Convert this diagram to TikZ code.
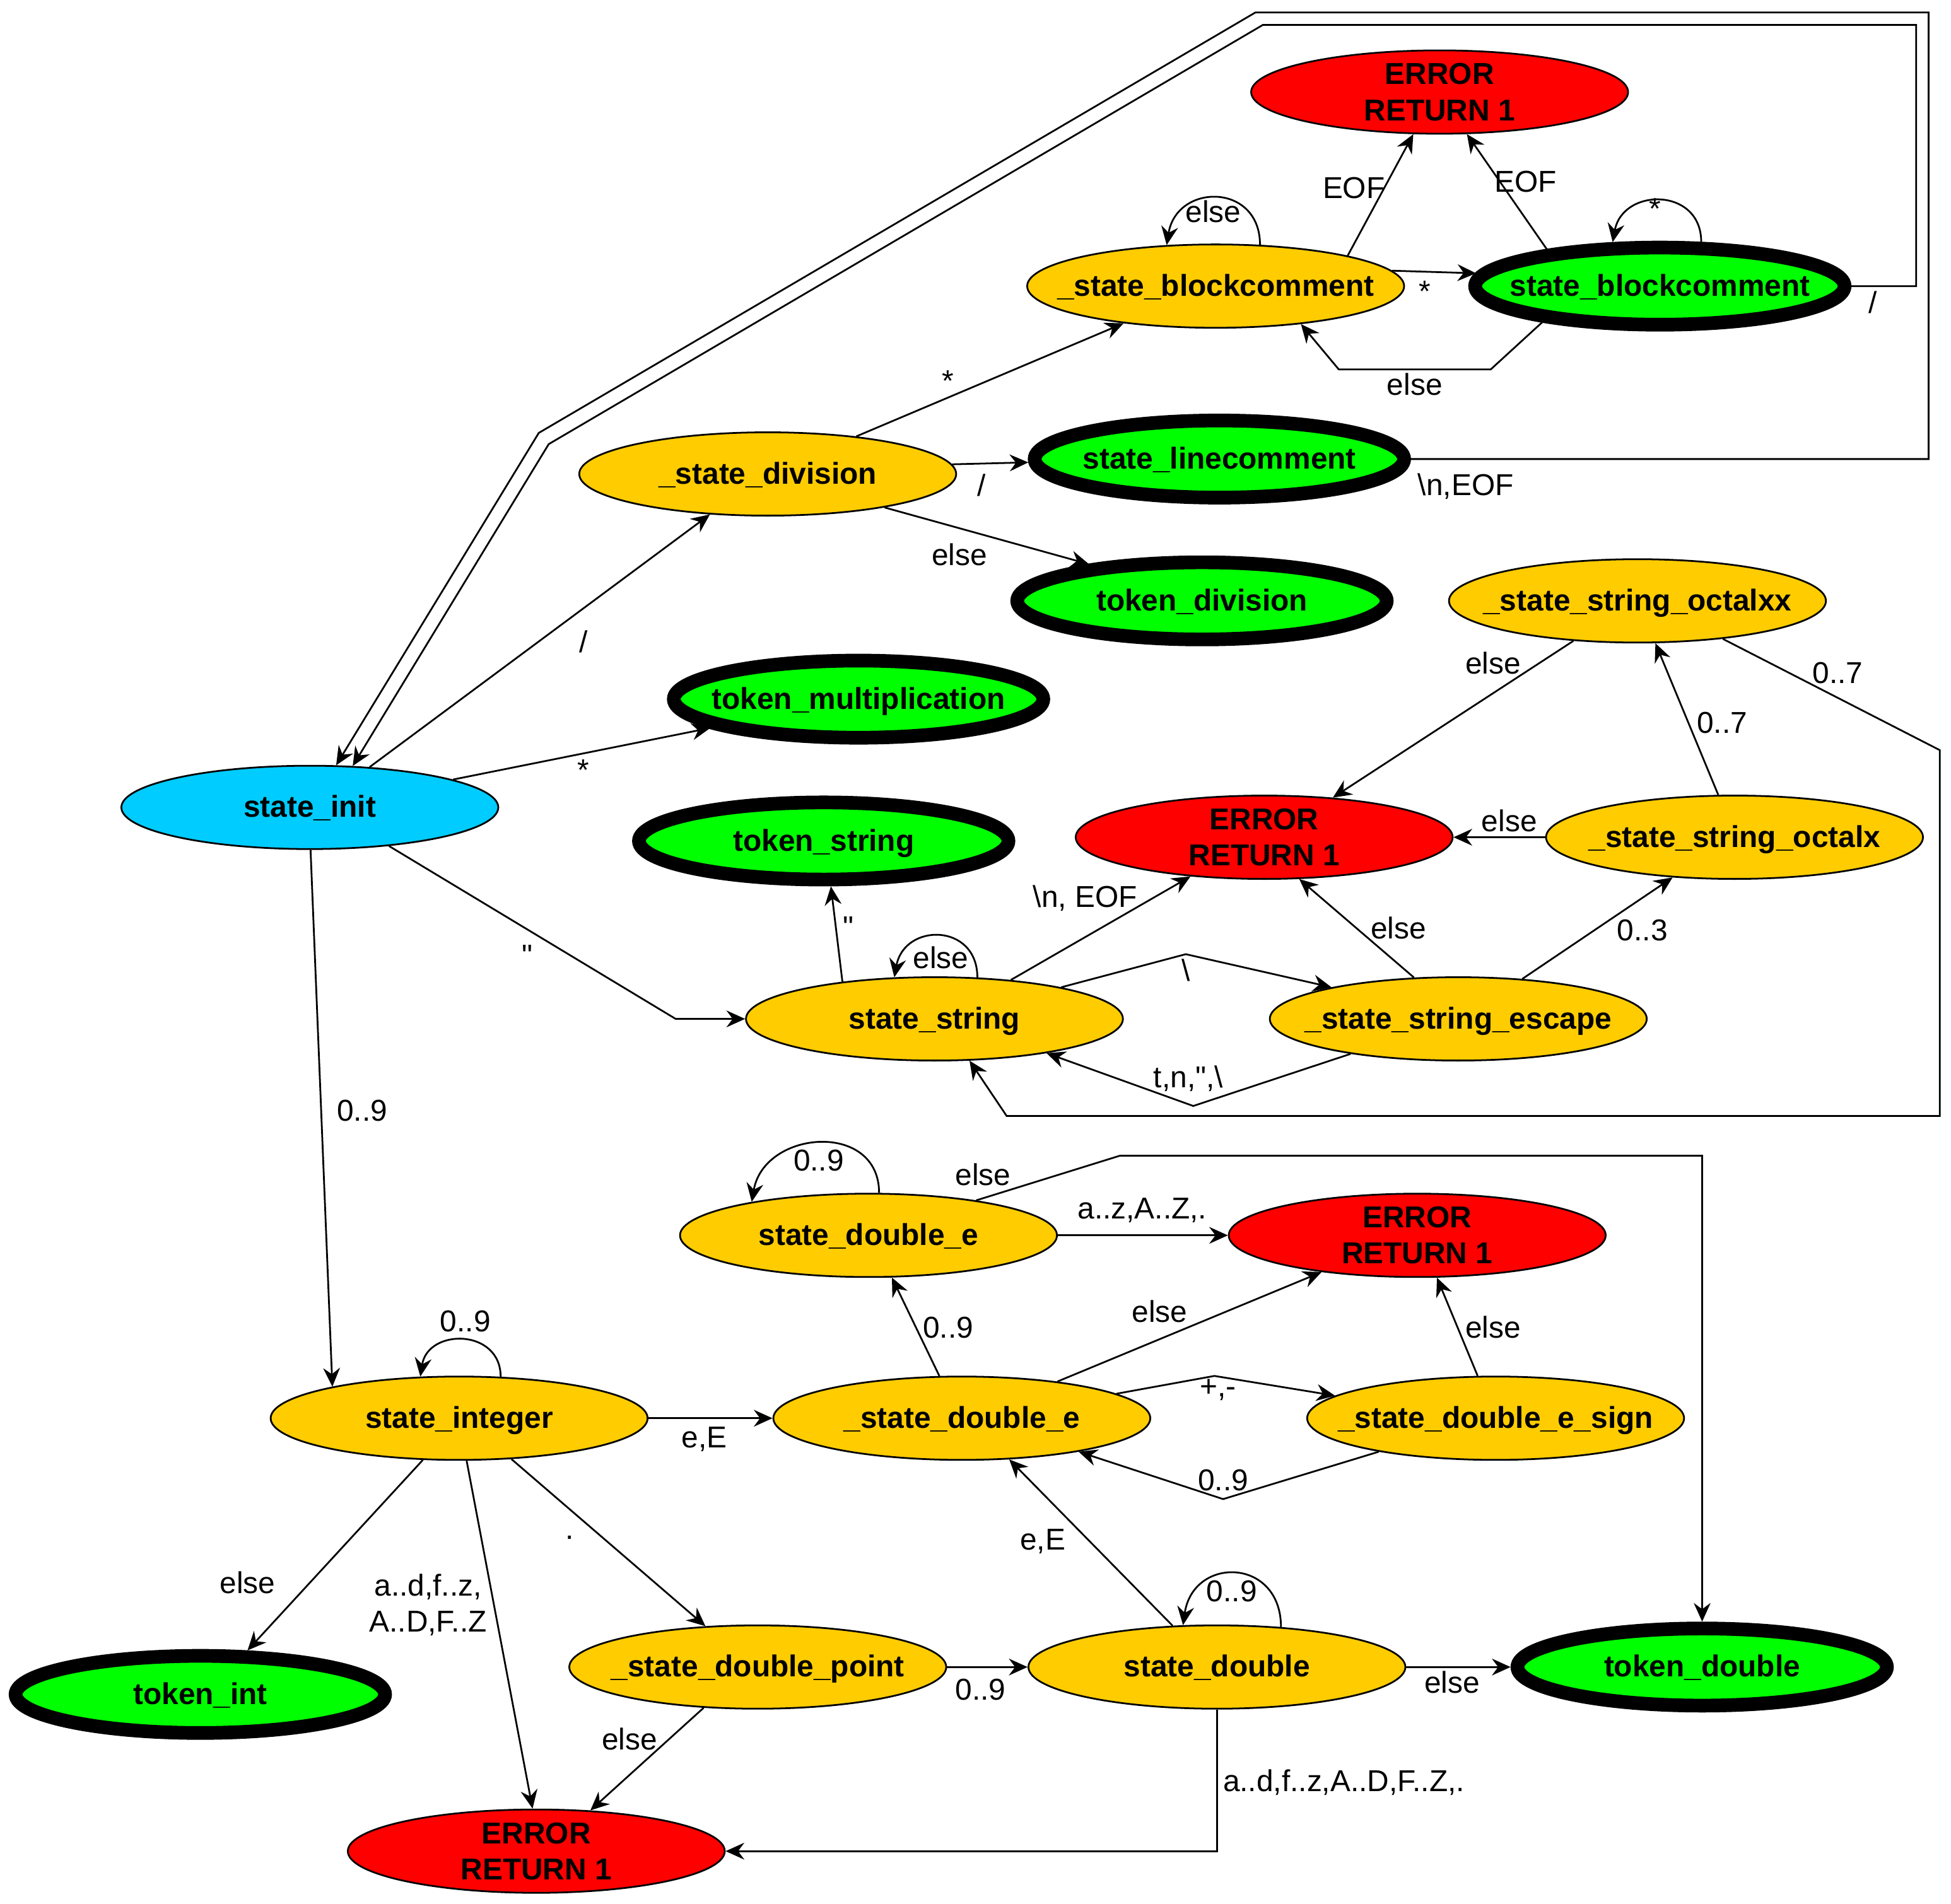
\documentclass[tikz,border=0pt]{standalone}
\usepackage{fontspec}
\setmainfont{Liberation Sans}[Ligatures=TeXOff]
\usetikzlibrary{shapes.geometric,arrows.meta}
\definecolor{fillY}{HTML}{FFCC00}
\definecolor{fillG}{HTML}{00FF00}
\definecolor{fillR}{HTML}{FF0000}
\definecolor{fillB}{HTML}{00CCFF}
\newcommand\fsz{\fontsize{13.8}{16.5}\selectfont}
\begin{document}
\begin{tikzpicture}[x=0.02cm,y=-0.02cm,
  every node/.style={font=\fsz},
  st/.style={ellipse,draw,line width=0.8pt,fill=fillY,
    minimum width=6.06cm,minimum height=1.34cm,
    inner xsep=-3cm,inner ysep=-0.5cm,font=\fsz\bfseries},
  one/.style={text height=0.9em,text depth=0pt},
  fin/.style={st,one,fill=fillG,line width=0.22cm,
    minimum width=5.94cm,minimum height=1.24cm},
  err/.style={st,fill=fillR,align=center},
  tr/.style={draw,line width=0.8pt,-{Stealth[length=0.3cm,width=0.27cm,inset=0.1cm]}},
  lb/.style={inner sep=0pt}
]
\useasboundingbox (0,0) rectangle (1568,1530);

% states
\node[err] (eA) at (1157,74) {ERROR\\RETURN 1};
\node[st,one] (bcx) at (977,230) {\_state\_blockcomment};
\node[fin] (bc) at (1334,230) {state\_blockcomment};
\node[st,one] (div) at (617,381) {\_state\_division};
\node[fin] (lc) at (980,369) {state\_linecomment};
\node[fin] (tdiv) at (966,483) {token\_division};
\node[st,one] (oxx) at (1316,483) {\_state\_string\_octalxx};
\node[fin] (tmul) at (690,562) {token\_multiplication};
\node[st,one,fill=fillB] (init) at (249,649) {state\_init};
\node[fin] (tstr) at (662,676) {token\_string};
\node[err] (eB) at (1016,673) {ERROR\\RETURN 1};
\node[st,one] (ox) at (1394,673) {\_state\_string\_octalx};
\node[st,one] (str) at (751,819) {state\_string};
\node[st,one] (esc) at (1172,819) {\_state\_string\_escape};
\node[st,one] (dbe) at (698,993) {state\_double\_e};
\node[err] (eC) at (1139,993) {ERROR\\RETURN 1};
\node[st,one] (int) at (369,1140) {state\_integer};
\node[st,one] (de) at (773,1140) {\_state\_double\_e};
\node[st,one] (sgn) at (1202,1140) {\_state\_double\_e\_sign};
\node[fin] (tint) at (161,1362) {token\_int};
\node[st,one] (dp) at (609,1340) {\_state\_double\_point};
\node[st,one] (dbl) at (978,1340) {state\_double};
\node[fin] (tdbl) at (1368,1340) {token\_double};
\node[err] (eD) at (431,1488) {ERROR\\RETURN 1};

% comments and division
\draw[tr] (init.34) -- (div.215);
\draw[tr] (init.11) -- (tmul.191);
\draw[tr] (div.23) -- (bcx.202);
\draw[tr] (div.3) -- (lc.181);
\draw[tr] (div.-16) -- (tdiv.162);
\draw[tr] (bcx.43) .. controls +(0,-50) and +(8,-50) .. (bcx.140);
\draw[tr] (bcx.5) -- (bc.176);
\draw[tr] (bc.47) .. controls +(0,-44) and +(8,-44) .. (bc.137);
\draw[tr] (bcx.13) -- (eA.238);
\draw[tr] (bc.162) -- (eA.303);
\draw[tr] (bc.197) -- (1198,297) -- (1076,297) -- (bcx.-24);
\draw[tr] (lc.east) -- (1550,369) -- (1550,10) -- (1009,10) -- (433,348) -- (init.58);
\draw[tr] (bc.east) -- (1540,230) -- (1540,20) -- (1015,20) -- (441,357) -- (init.44);

% strings
\draw[tr] (init.-26) -- (543,819) -- (str.west);
\draw[tr] (str.158) -- (tstr.-81);
\draw[tr] (str.44) .. controls +(0,-44) and +(8,-44) .. (str.134);
\draw[tr] (str.27) -- (eB.208);
\draw[tr] (str.14) -- (953,767) -- (esc.166);
\draw[tr] (esc.198) -- (959,889) -- (str.-17);
\draw[tr] (esc.137) -- (eB.-50);
\draw[tr] (esc.32) -- (ox.213);
\draw[tr] (ox.west) -- (eB.east);
\draw[tr] (ox.111) -- (oxx.-67);
\draw[tr] (oxx.212) -- (eB.30);
\draw[tr] (oxx.-24) -- (1559,603) -- (1559,897) -- (809,897) -- (str.-50);

% numbers
\draw[tr] (init.-89) -- (int.166);
\draw[tr] (int.45) .. controls +(0,-39) and +(6,-39) .. (int.133);
\draw[tr] (int.east) -- (de.west);
\draw[tr] (int.229) -- (tint.43);
\draw[tr] (int.-80) -- (eD.95);
\draw[tr] (int.-38) -- (dp.142);
\draw[tr] (dp.east) -- (dbl.west);
\draw[tr] (dp.217) -- (eD.37);
\draw[tr] (dbl.south) |- (eD.east);
\draw[tr] (dbl.east) -- (tdbl.west);
\draw[tr] (dbl.32) .. controls +(0,-56) and +(8,-56) .. (dbl.129);
\draw[tr] (dbl.137) -- (de.-41);
\draw[tr] (de.118) -- (dbe.-61);
\draw[tr] (de.21) -- (eC.201);
\draw[tr] (de.9) -- (976,1106) -- (sgn.172);
\draw[tr] (sgn.196) -- (983,1205) -- (de.-16);
\draw[tr] (sgn.113) -- (eC.-65);
\draw[tr] (dbe.east) -- (eC.west);
\draw[tr] (dbe.18) -- (900,929) -- (1368,929) -- (tdbl.north);
\draw[tr] (dbe.76) .. controls +(0,-58) and +(10,-58) .. (dbe.164);

% transition labels
\node[lb] (l1) at (469,516) {/};
\node[lb] (l2) at (469,619) {*};
\node[lb] (l3) at (762,306) {*};
\node[lb] (l4) at (789,390) {/};
\node[lb] (l5) at (771,446) {else};
\node[lb] (l6) at (975,170) {else};
\node[lb] (l7) at (1145,234) {*};
\node[lb] (l8) at (1330,168) {*};
\node[lb] (l9) at (1088,151) {EOF};
\node[lb] (l10) at (1226,146) {EOF};
\node[lb] (l11) at (1137,309) {else};
\node[lb] (l12) at (1505,243) {/};
\node[lb] (l13) at (1178,391) {\textbackslash n,EOF};
\node[lb] (l14) at (424,768) {"};
\node[lb] (l15) at (682,745) {"};
\node[lb] (l16) at (756,770) {else};
\node[lb] (l17) at (872,722) {\textbackslash n, EOF};
\node[lb] (l18) at (953,780) {\textbackslash};
\node[lb] (l19) at (955,867) {t,n,",\textbackslash};
\node[lb] (l20) at (1124,746) {else};
\node[lb] (l21) at (1320,748) {0..3};
\node[lb] (l22) at (1213,660) {else};
\node[lb] (l23) at (1384,581) {0..7};
\node[lb] (l24) at (1200,533) {else};
\node[lb] (l25) at (1477,541) {0..7};
\node[lb] (l26) at (291,893) {0..9};
\node[lb] (l27) at (374,1062) {0..9};
\node[lb] (l28) at (566,1157) {e,E};
\node[lb] (l29) at (199,1272) {else};
\node[lb,align=center] (l30) at (344,1290) {a..d,f..z,\\A..D,F..Z};
\node[lb] (l31) at (458,1236) {.};
\node[lb] (l32) at (788,1358) {0..9};
\node[lb] (l33) at (506,1398) {else};
\node[lb] (l34) at (1080,1433) {a..d,f..z,A..D,F..Z,.};
\node[lb] (l35) at (990,1279) {0..9};
\node[lb] (l36) at (1167,1352) {else};
\node[lb] (l37) at (838,1239) {e,E};
\node[lb] (l38) at (762,1067) {0..9};
\node[lb] (l39) at (932,1054) {else};
\node[lb] (l40) at (979,1117) {+,-};
\node[lb] (l41) at (983,1190) {0..9};
\node[lb] (l42) at (1200,1067) {else};
\node[lb] (l43) at (918,973) {a..z,A..Z,.};
\node[lb] (l44) at (790,944) {else};
\node[lb] (l45) at (658,933) {0..9};
\end{tikzpicture}
\end{document}
